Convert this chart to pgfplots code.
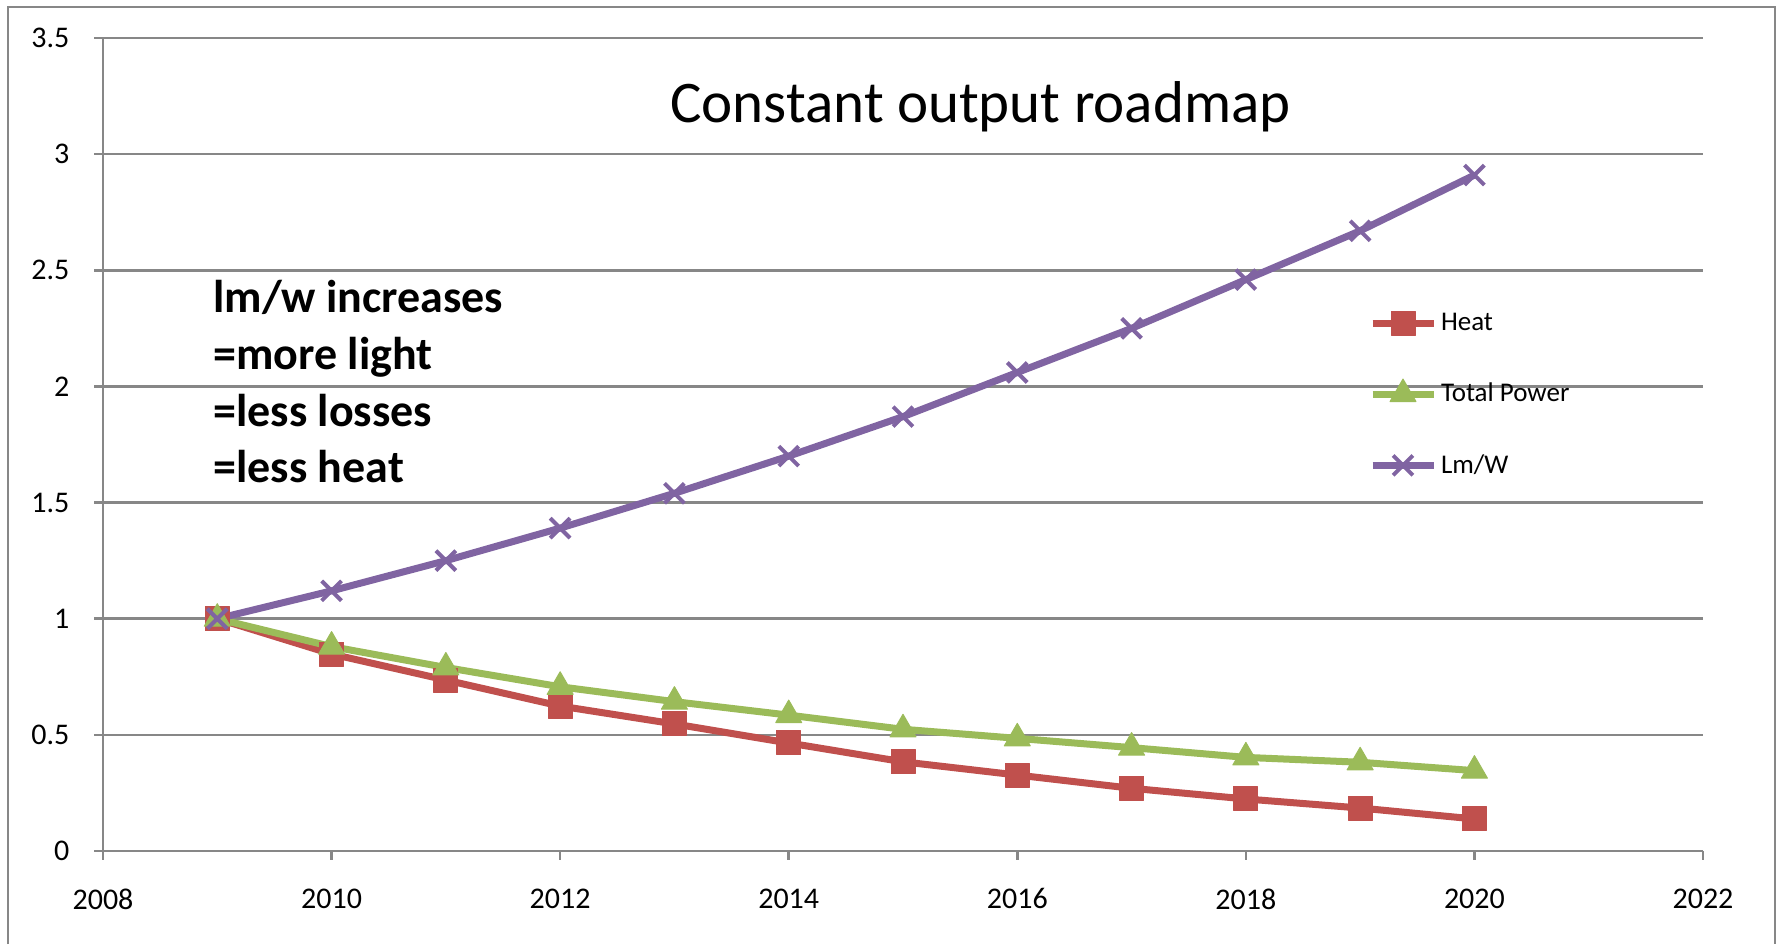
\documentclass[border=0pt]{standalone}
\usepackage{fontspec}
\setmainfont{Carlito}
\usepackage{pgfplots}
\pgfplotsset{compat=1.18}
\definecolor{gridgray}{RGB}{135,135,135}
\definecolor{heatred}{RGB}{192,80,77}
\definecolor{tpgreen}{RGB}{155,187,89}
\definecolor{lmpurple}{RGB}{128,100,162}
\begin{document}
\begin{tikzpicture}
\begin{axis}[
  at={(51.5pt,46.5pt)}, anchor=south west,
  scale only axis, width=800pt, height=406.5pt,
  xmin=2008, xmax=2022, ymin=0, ymax=3.5,
  xtick={2008,2010,2012,2014,2016,2018,2020,2022},
  ytick={0,0.5,1,1.5,2,2.5,3,3.5},
  axis x line=bottom, axis y line=left,
  axis line style={-, gridgray, line width=1.3pt},
  ymajorgrids, grid style={gridgray, line width=1.3pt},
  tick align=outside, major tick length=4.25pt,
  tick style={gridgray, line width=1.3pt},
  /pgf/number format/assume math mode=true,
  /pgf/number format/set thousands separator={},
  xticklabel style={font=\fontsize{15}{18}\selectfont, yshift=-11pt},
  yticklabel style={font=\fontsize{15}{18}\selectfont, xshift=-9pt},
  legend image code/.code={\draw[mark repeat=2,mark phase=2] plot coordinates {(0pt,0pt) (15.25pt,0pt) (30.5pt,0pt)};},
  legend style={at={(0.791,0.667)}, anchor=north west, draw=none, fill=none,
    inner sep=0pt, font=\fontsize{13.5}{16}\selectfont, row sep=20.8pt,
    nodes={inner sep=2pt}},
  legend cell align=left,
]
\addplot[heatred, line width=3.5pt, line join=round, mark=square*, mark size=6pt,
  mark options={solid, line width=0.5pt}] coordinates {
 (2009,1.0) (2010,0.848) (2011,0.736) (2012,0.624) (2013,0.547) (2014,0.465)
 (2015,0.384) (2016,0.327) (2017,0.27) (2018,0.224) (2019,0.185) (2020,0.138)};
\addlegendentry{Heat}
\addplot[tpgreen, line width=3.5pt, line join=round, mark=triangle*, mark size=7.5pt,
  mark options={solid, line width=0.5pt}] coordinates {
 (2009,1.0) (2010,0.88) (2011,0.79) (2012,0.707) (2013,0.643) (2014,0.585)
 (2015,0.524) (2016,0.485) (2017,0.445) (2018,0.403) (2019,0.382) (2020,0.346)};
\addlegendentry{Total Power}
\addplot[lmpurple, line width=3.5pt, line join=round, mark=x, mark size=7pt,
  mark options={solid, line width=2pt}] coordinates {
 (2009,1.0) (2010,1.12) (2011,1.25) (2012,1.39) (2013,1.54) (2014,1.70)
 (2015,1.87) (2016,2.06) (2017,2.25) (2018,2.46) (2019,2.67) (2020,2.91)};
\addlegendentry{Lm/W}
\end{axis}
\draw[gridgray, line width=1.3pt] (4pt,0pt) -- (4pt,468.5pt) -- (887.5pt,468.5pt) -- (887.5pt,0pt);
\node[anchor=base west, inner sep=0pt, font=\fontsize{29.5}{35}\selectfont] at (335pt,410.5pt) {Constant output roadmap};
\begin{scope}[every node/.style={anchor=base west, inner sep=0pt, font=\fontsize{23}{28}\selectfont\bfseries}]
\node at (106.5pt,315.5pt) {lm/w increases};
\node at (106.5pt,287.2pt) {=more light};
\node at (106.5pt,258.9pt) {=less losses};
\node at (106.5pt,230.6pt) {=less heat};
\end{scope}
\pgfresetboundingbox
\useasboundingbox (0pt,0pt) rectangle (891.5pt,472pt);
\end{tikzpicture}
\end{document}
